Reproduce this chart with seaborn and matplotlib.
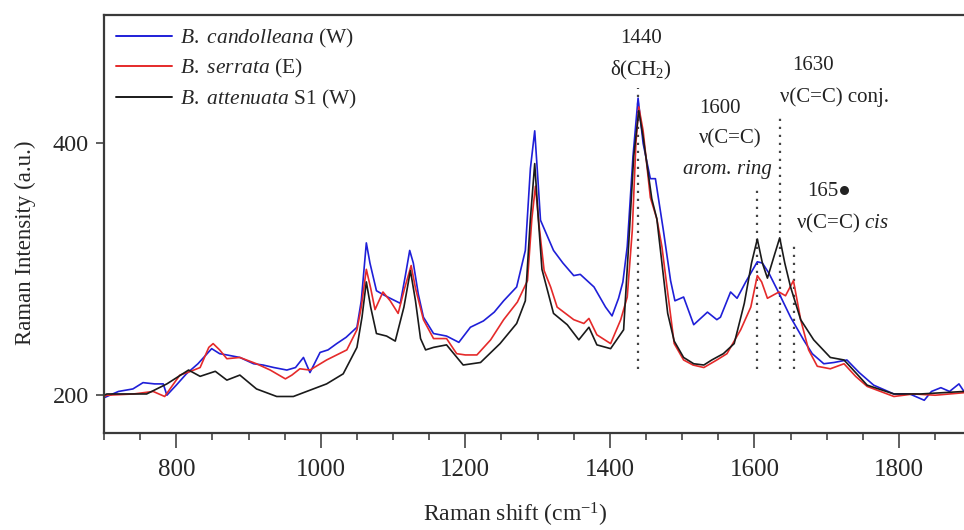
import numpy as np
import pandas as pd
import matplotlib
matplotlib.use("Agg")
import matplotlib.pyplot as plt
import seaborn as sns
from matplotlib.ticker import MultipleLocator, FixedLocator

# ---------------- data ----------------
blue_x = [700, 704, 720, 740, 754, 770, 782, 787, 800, 814, 830, 849, 860, 870, 888, 907, 920, 935, 953, 965,
          976, 985, 999, 1010, 1022, 1035, 1050, 1056, 1063, 1068, 1077, 1086, 1096, 1110, 1117, 1123, 1128, 1135,
          1142, 1156, 1174, 1191, 1207, 1225, 1240, 1253, 1271, 1283, 1290, 1296, 1300, 1304, 1322, 1335, 1350,
          1359, 1378, 1394, 1403, 1412, 1418, 1424, 1432, 1439, 1446, 1456, 1463, 1474, 1484, 1490, 1502, 1516,
          1535, 1548, 1553, 1567, 1576, 1588, 1604, 1611, 1620, 1634, 1650, 1668, 1680, 1696, 1710, 1728, 1745,
          1765, 1793, 1815, 1835, 1845, 1858, 1870, 1883, 1890]
blue_y = [198, 199, 203, 205, 210, 209, 209, 200, 208, 217, 225, 237, 233, 232, 230, 225, 224, 222, 220, 222,
          230, 218, 234, 236, 241, 246, 254, 275, 321, 305, 283, 280, 277, 273, 295, 315, 305, 280,
          262, 249, 247, 242, 254, 259, 266, 275, 286, 315, 380, 410, 375, 339, 315, 305, 295,
          296, 286, 270, 263, 277, 290, 318, 390, 436, 400, 372, 372, 331, 291, 275, 278, 256,
          266, 260, 262, 282, 277, 290, 306, 305, 297, 281, 262, 244, 233, 225, 226, 228, 218,
          208, 201, 201, 196, 203, 206, 203, 209, 203]

red_x = [700, 704, 741, 768, 784, 795, 805, 820, 833, 845, 851, 860, 870, 888, 911, 930, 951, 960, 971, 985,
         1008, 1036, 1050, 1056, 1063, 1069, 1075, 1086, 1096, 1107, 1116, 1125, 1131, 1142, 1156, 1174, 1188,
         1200, 1216, 1235, 1253, 1272, 1286, 1292, 1297, 1302, 1309, 1318, 1327, 1350, 1364, 1371, 1382, 1401,
         1415, 1424, 1431, 1436, 1440, 1446, 1456, 1465, 1472, 1479, 1489, 1502, 1515, 1530, 1548, 1562, 1581,
         1595, 1604, 1610, 1618, 1634, 1643, 1654, 1664, 1675, 1687, 1705, 1724, 1740, 1756, 1793, 1820, 1850,
         1890]
red_y = [199, 200, 201, 203, 199, 208, 216, 219, 222, 238, 241, 236, 229, 230, 225, 220, 213, 216, 221, 220,
         228, 236, 252, 270, 300, 285, 268, 282, 275, 265, 285, 303, 285, 260, 245, 245, 233,
         232, 232, 244, 260, 274, 291, 340, 366, 335, 299, 286, 270, 260, 257, 261, 248, 241,
         260, 278, 331, 400, 429, 410, 357, 340, 318, 286, 241, 228, 224, 222, 228, 233, 252,
         270, 295, 290, 277, 282, 279, 291, 260, 236, 223, 221, 225, 215, 207, 199, 201, 200,
         202]

black_x = [700, 704, 759, 787, 817, 833, 854, 870, 888, 911, 939, 962, 985, 1008, 1031, 1050, 1057, 1063, 1069,
           1077, 1091, 1103, 1115, 1124, 1131, 1138, 1145, 1156, 1174, 1197, 1221, 1248, 1271, 1283, 1290, 1296,
           1301, 1306, 1322, 1341, 1357, 1371, 1382, 1401, 1419, 1426, 1433, 1440, 1446, 1458, 1465, 1472, 1480,
           1489, 1502, 1516, 1530, 1541, 1557, 1572, 1586, 1596, 1604, 1611, 1618, 1628, 1635, 1642, 1650, 1664,
           1682, 1705, 1724, 1740, 1756, 1793, 1830, 1860, 1890]
black_y = [200, 201, 201, 209, 220, 215, 219, 212, 216, 205, 199, 199, 204, 209, 217, 238, 262, 290, 270,
           249, 247, 243, 270, 299, 275, 245, 236, 238, 240, 224, 226, 241, 257, 275, 340, 384,
           340, 300, 265, 256, 244, 254, 240, 237, 252, 320, 390, 426, 405, 356, 340, 305, 265,
           243, 230, 225, 224, 228, 233, 241, 273, 305, 324, 305, 293, 312, 325, 305, 286, 260,
           244, 230, 228, 218, 208, 201, 201, 202, 203]

series_labels = [r"$\it{B.\ candolleana}$ (W)", r"$\it{B.\ serrata}$ (E)", r"$\it{B.\ attenuata}$ S1 (W)"]
series_colors = ["#1f1fd8", "#e52a2a", "#1a1a1a"]

# marker lines (wavenumber, top of dotted line)
mark_pos = [1439, 1604, 1635, 1655]
mark_top = [444, 364, 424, 322]
mark_bottom = 221

x_ticks = [800, 1000, 1200, 1400, 1600, 1800]
y_ticks = [200, 400]

# ---------------- build frame ----------------
frames = []
for lab, xs, ys in zip(series_labels, [blue_x, red_x, black_x], [blue_y, red_y, black_y]):
    frames.append(pd.DataFrame({"shift": xs, "intensity": ys, "sample": lab}))
df = pd.concat(frames, ignore_index=True)

# ---------------- style ----------------
sns.set_theme(style="white")
plt.rcParams["font.family"] = ["Liberation Serif", "DejaVu Sans"]
plt.rcParams["mathtext.fontset"] = "custom"
plt.rcParams["mathtext.rm"] = "Liberation Serif"
plt.rcParams["mathtext.it"] = "Liberation Serif:italic"
plt.rcParams["mathtext.bf"] = "Liberation Serif:bold"

fig = plt.figure(figsize=(9.64, 5.30), dpi=100)
ax = fig.add_axes([104 / 964, 97 / 530, 860 / 964, 418 / 530])

sns.lineplot(data=df, x="shift", y="intensity", hue="sample", palette=series_colors,
             estimator=None, sort=False, linewidth=1.2, ax=ax)

for xp, yt in zip(mark_pos, mark_top):
    ax.plot([xp, xp], [mark_bottom, yt], color="#444444", linewidth=1.6,
            linestyle=(0, (1, 2.6)), zorder=1)

ax.set_xlim(700, 1890)
ax.set_ylim(170, 502)

ax.xaxis.set_major_locator(FixedLocator(x_ticks))
ax.xaxis.set_minor_locator(MultipleLocator(50))
ax.yaxis.set_major_locator(FixedLocator(y_ticks))

ax.tick_params(axis="x", which="major", direction="out", length=11, width=1.2,
               color="#444444", labelsize=18, pad=8)
ax.tick_params(axis="x", which="minor", direction="out", length=5, width=1.2, color="#444444")
ax.tick_params(axis="y", which="major", direction="out", length=6, width=1.2,
               color="#444444", labelsize=17.5, pad=5)
ax.tick_params(bottom=True, left=True, which="both")
ax.tick_params(axis="y", which="minor", left=False)

for s in ["left", "bottom", "top"]:
    ax.spines[s].set_color("#3a3a3a")
    ax.spines[s].set_linewidth(1.6)
ax.spines["right"].set_visible(False)

ax.set_xlabel(r"Raman shift (cm$^{-1}$)", fontsize=17, labelpad=14, x=0.478)
ax.set_ylabel("Raman Intensity (a.u.)", fontsize=16.5, labelpad=12, y=0.455)

leg = ax.legend(loc="upper left", bbox_to_anchor=(0, 1), frameon=False, fontsize=15.5,
                handlelength=2.6, handletextpad=0.4, labelspacing=0.35,
                borderpad=0.55, borderaxespad=0.0)
for line in leg.get_lines():
    line.set_linewidth(1.4)

# annotations
tk = dict(ha="center", va="center", fontsize=15, color="#222222")
ax.text(1443, 483, "1440", **tk)
ax.text(1443, 458, r"δ(CH$_2$)", **tk)
ax.text(1552, 428, "1600", **tk)
ax.text(1567, 404, "ν(C=C)", **tk)
ax.text(1563, 379, "arom. ring", style="italic", **tk)
ax.text(1681, 462, "1630", **tk)
ax.text(1711, 436.5, "ν(C=C) conj.", **tk)
ax.text(1703, 362, "165●", **tk)
ax.text(1722, 336.5, r"ν(C=C) $\it{cis}$", **tk)

fig.savefig("out.png", dpi=100)
